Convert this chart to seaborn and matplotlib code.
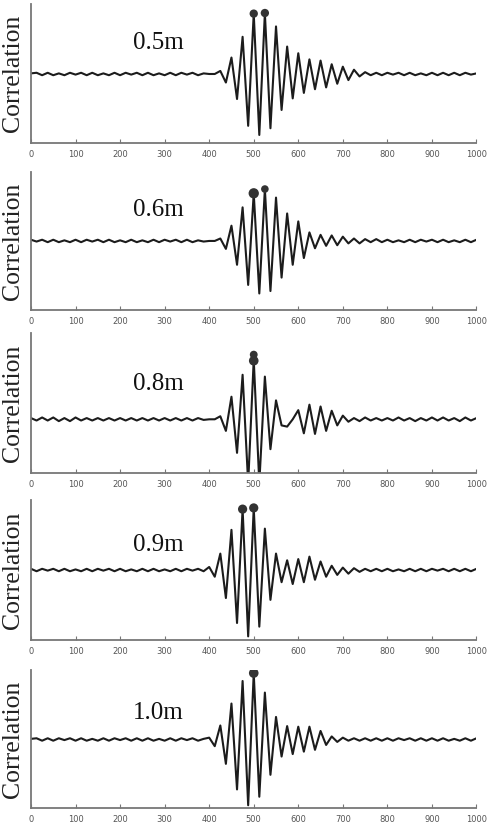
import matplotlib
matplotlib.use("Agg")
import matplotlib.pyplot as plt
import seaborn as sns

# lag axis (samples), extrema grid used for every panel
lag = [0, 12.5, 25, 37.5, 50, 62.5, 75, 87.5, 100, 112.5, 125, 137.5, 150, 162.5,
       175, 187.5, 200, 212.5, 225, 237.5, 250, 262.5, 275, 287.5, 300, 312.5, 325,
       337.5, 350, 362.5, 375, 387.5, 400, 412.5, 425, 437.5, 450, 462.5, 475, 487.5,
       500, 512.5, 525, 537.5, 550, 562.5, 575, 587.5, 600, 612.5, 625, 637.5, 650,
       662.5, 675, 687.5, 700, 712.5, 725, 737.5, 750, 762.5, 775, 787.5, 800, 812.5,
       825, 837.5, 850, 862.5, 875, 887.5, 900, 912.5, 925, 937.5, 950, 962.5, 975,
       987.5, 1000]

# correlation values
corr_05 = [0.01, 0.02, -0.02, 0.02, -0.02, 0.01, -0.02, 0.02,
           -0.01, 0.02, -0.02, 0.02, -0.02, 0.01, -0.02, 0.02,
           -0.02, 0.02, -0.01, 0.02, -0.02, 0.02, -0.02, 0.01,
           -0.02, 0.02, -0.02, 0.02, -0.01, 0.02, -0.02, 0.01,
           0.00, 0.00, 0.05, -0.14, 0.27, -0.41, 0.61, -0.85,
           0.99, -1.00, 1.00, -0.89, 0.78, -0.59, 0.45, -0.40,
           0.34, -0.31, 0.24, -0.25, 0.22, -0.22, 0.16, -0.16,
           0.12, -0.10, 0.07, -0.04, 0.03, -0.02, 0.02, -0.02,
           0.02, -0.01, 0.02, -0.02, 0.02, -0.02, 0.01, -0.02,
           0.02, -0.02, 0.02, -0.02, 0.02, -0.02, 0.02, -0.01,
           0.01]
corr_06 = [0.02, -0.01, 0.02, -0.02, 0.02, -0.02, 0.01, -0.02,
           0.02, -0.02, 0.02, -0.01, 0.02, -0.02, 0.02, -0.02,
           0.01, -0.02, 0.02, -0.02, 0.01, -0.02, 0.02, -0.02,
           0.02, -0.01, 0.02, -0.02, 0.02, -0.02, 0.01, -0.01,
           0.00, 0.00, 0.04, -0.13, 0.25, -0.39, 0.55, -0.72,
           0.78, -0.86, 0.85, -0.82, 0.71, -0.60, 0.45, -0.39,
           0.32, -0.28, 0.14, -0.12, 0.10, -0.08, 0.09, -0.07,
           0.07, -0.04, 0.04, -0.04, 0.03, -0.02, 0.03, -0.02,
           0.02, -0.02, 0.01, -0.02, 0.02, -0.02, 0.02, -0.01,
           0.02, -0.02, 0.02, -0.02, 0.01, -0.02, 0.02, -0.02,
           0.02]
corr_08 = [0.02, -0.02, 0.03, -0.02, 0.03, -0.03, 0.02, -0.03,
           0.03, -0.02, 0.02, -0.02, 0.02, -0.02, 0.02, -0.02,
           0.02, -0.02, 0.02, -0.02, 0.02, -0.02, 0.02, -0.02,
           0.02, -0.02, 0.02, -0.02, 0.02, -0.02, 0.02, -0.01,
           0.00, 0.00, 0.05, -0.19, 0.37, -0.55, 0.73, -1.05,
           0.98, -1.05, 0.70, -0.49, 0.31, -0.10, -0.12, 0.00,
           0.15, -0.23, 0.24, -0.24, 0.21, -0.19, 0.14, -0.10,
           0.06, -0.04, 0.02, -0.03, 0.03, -0.02, 0.02, -0.02,
           0.02, -0.02, 0.03, -0.02, 0.02, -0.03, 0.02, -0.02,
           0.03, -0.02, 0.03, -0.02, 0.02, -0.03, 0.03, -0.02,
           0.02]
corr_09 = [0.02, -0.02, 0.02, -0.01, 0.02, -0.02, 0.02, -0.02,
           0.01, -0.02, 0.02, -0.02, 0.02, -0.01, 0.02, -0.02,
           0.02, -0.02, 0.01, -0.02, 0.02, -0.02, 0.02, -0.02,
           0.01, -0.02, 0.02, -0.02, 0.02, -0.01, 0.02, -0.02,
           0.05, -0.11, 0.27, -0.46, 0.66, -0.87, 1.00, -1.09,
           1.02, -0.93, 0.68, -0.49, 0.27, -0.20, 0.16, -0.23,
           0.18, -0.20, 0.22, -0.16, 0.14, -0.11, 0.07, -0.08,
           0.04, -0.06, 0.03, -0.03, 0.02, -0.02, 0.02, -0.02,
           0.02, -0.02, 0.01, -0.02, 0.02, -0.02, 0.02, -0.02,
           0.02, -0.01, 0.02, -0.02, 0.02, -0.02, 0.02, -0.02,
           0.02]
corr_10 = [0.01, 0.02, -0.02, 0.02, -0.02, 0.02, -0.01, 0.02,
           -0.02, 0.02, -0.02, 0.01, -0.02, 0.02, -0.02, 0.02,
           -0.01, 0.02, -0.02, 0.02, -0.02, 0.02, -0.02, 0.01,
           -0.02, 0.02, -0.02, 0.02, -0.01, 0.02, -0.02, 0.01,
           0.03, -0.11, 0.23, -0.40, 0.59, -0.82, 0.96, -1.08,
           1.09, -0.94, 0.77, -0.58, 0.37, -0.28, 0.22, -0.24,
           0.21, -0.20, 0.21, -0.17, 0.14, -0.09, 0.05, -0.04,
           0.03, -0.02, 0.02, -0.02, 0.02, -0.02, 0.02, -0.02,
           0.02, -0.02, 0.02, -0.01, 0.02, -0.02, 0.02, -0.02,
           0.02, -0.02, 0.02, -0.02, 0.01, -0.02, 0.02, -0.02,
           0.02]

labels = ["0.5m", "0.6m", "0.8m", "0.9m", "1.0m"]
series = [corr_05, corr_06, corr_08, corr_09, corr_10]

# detected peaks (marked with dots)
peak_lag = [[500, 525], [500, 525], [500, 500], [475, 500], [500]]
peak_val = [[0.99, 1.00], [0.78, 0.85], [0.96, 1.06], [1.00, 1.02], [1.09]]
peak_size = [[36, 36], [55, 30], [48, 32], [44, 44], [48]]

xticks = [0, 100, 200, 300, 400, 500, 600, 700, 800, 900, 1000]

sns.set_theme(style="white")
plt.rcParams["font.family"] = ["DejaVu Sans"]

fig = plt.figure(figsize=(4.88, 8.31), dpi=100)

# axes layout (figure fractions) and y-limits per panel
rects = [(0.0635, 0.8276, 0.9129, 0.1676),
         (0.0635, 0.6270, 0.9129, 0.1661),
         (0.0635, 0.4312, 0.9129, 0.1681),
         (0.0635, 0.2298, 0.9129, 0.1685),
         (0.0635, 0.0273, 0.9129, 0.1664)]
ylims = [(-1.136, 1.148), (-1.13, 1.13), (-0.875, 1.415), (-1.15, 1.15), (-1.13, 1.14)]
label_y = [0.72, 0.725, 0.635, 0.68, 0.69]

serif = ["Liberation Serif", "DejaVu Serif"]

for i in range(5):
    ax = fig.add_axes(rects[i])
    sns.lineplot(x=lag, y=series[i], ax=ax, color="#1c1c1c", linewidth=1.5,
                 estimator=None, sort=False, solid_joinstyle="round",
                 solid_capstyle="round")
    sns.scatterplot(x=peak_lag[i], y=peak_val[i], ax=ax, s=peak_size[i],
                    color="#333333", edgecolor="none", zorder=4, legend=False)
    ax.set_xlim(0, 1000)
    ax.set_ylim(*ylims[i])
    ax.set_xticks(xticks)
    ax.set_xticklabels([str(t) for t in xticks])
    ax.set_yticks([])
    for side in ["top", "right"]:
        ax.spines[side].set_visible(False)
    for side in ["left", "bottom"]:
        ax.spines[side].set_color("#777777")
        ax.spines[side].set_linewidth(1.3)
    ax.tick_params(axis="x", direction="in", length=3, width=0.8, colors="#777777",
                   labelsize=6, labelcolor="#555555", pad=5, bottom=True)
    ax.set_ylabel("Correlation", fontsize=18.5, family=serif, color="#222222",
                  labelpad=5)
    ax.set_xlabel("")
    ax.text(0.229, label_y[i], labels[i], transform=ax.transAxes, fontsize=18,
            family=serif, color="#111111", va="center", ha="left")

fig.savefig("out.png", dpi=100)
